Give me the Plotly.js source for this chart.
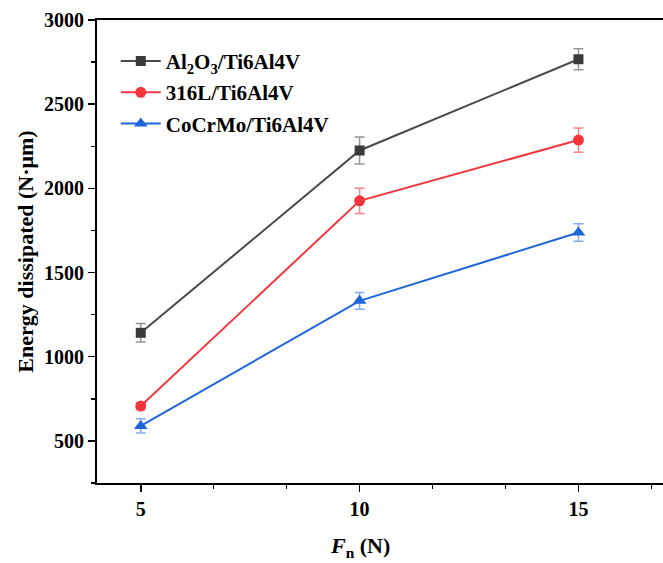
<!DOCTYPE html>
<html>
<head>
<meta charset="utf-8">
<script src="https://cdn.plot.ly/plotly-3.0.1.min.js"></script>
<style>
  html, body { margin: 0; padding: 0; background: #fff; overflow: hidden; }
  #chart { width: 670px; height: 563px; }
</style>
</head>
<body>
<div id="chart"></div>
<script>
// Normal load (N)
const loads = [5, 10, 15];

// Dissipated energy (N·µm) and standard deviations for each material pair
const al2o3Energy = [1142, 2225, 2767];
const al2o3Err = [55, 80, 62];
const ss316Energy = [707, 1926, 2287];
const ss316Err = [20, 75, 72];
const cocrmoEnergy = [589, 1332, 1738];
const cocrmoErr = [42, 50, 52];

const seriesNames = ['Al<sub>2</sub>O<sub>3</sub>/Ti6Al4V', '316L/Ti6Al4V', 'CoCrMo/Ti6Al4V'];
const xTitle = '<i>F</i><sub>n</sub> (N)';
const yTitle = 'Energy dissipated (N·μm)';

const font = 'Liberation Serif, Times New Roman, serif';

function series(name, group, y, err, lineColor, markerColor, errColor, symbol, size) {
  return {
    x: loads, y: y, name: name, legendgroup: group, type: 'scatter', mode: 'lines+markers',
    line: { color: lineColor, width: 2 },
    marker: { color: markerColor, symbol: symbol, size: size },
    error_y: { type: 'data', array: err, visible: true, color: errColor, thickness: 1.5, width: 5 }
  };
}

const data = [
  series(seriesNames[0], 'a', al2o3Energy, al2o3Err, '#4a4a4a', '#3a3a3a', 'rgba(60,60,60,0.55)', 'square', 10),
  series(seriesNames[1], 'b', ss316Energy, ss316Err, '#f2363c', '#f2363c', 'rgba(242,54,60,0.6)', 'circle', 11),
  series(seriesNames[2], 'c', cocrmoEnergy, cocrmoErr, '#1f66dd', '#1f66dd', 'rgba(31,102,221,0.55)', 'triangle-up', 12)
];

const layout = {
  width: 670, height: 563,
  margin: { l: 97, r: 4, t: 20, b: 80 },
  paper_bgcolor: '#ffffff', plot_bgcolor: '#ffffff',
  font: { family: font, color: '#000', size: 16 },
  showlegend: true,
  legend: {
    x: 0.033, y: 0.955, xanchor: 'left', yanchor: 'top',
    font: { family: font, size: 21, color: '#000', weight: 'bold' },
    bgcolor: 'rgba(0,0,0,0)', tracegroupgap: 1, itemwidth: 40
  },
  xaxis: {
    range: [4, 17], tickvals: loads, ticktext: loads.map(String),
    showgrid: false, zeroline: false,
    showline: true, linecolor: '#000', linewidth: 2, mirror: true,
    ticks: 'outside', ticklen: 7, tickwidth: 1.5, tickcolor: '#000',
    tickfont: { family: font, size: 20, weight: 'bold' },
    minor: { tick0: 5, dtick: 5 / 3, ticks: 'outside', ticklen: 4, tickwidth: 1.5, tickcolor: '#000', showgrid: false }
  },
  yaxis: {
    range: [250, 3000], tick0: 500, dtick: 500,
    showgrid: false, zeroline: false,
    showline: true, linecolor: '#000', linewidth: 2, mirror: true,
    ticks: 'outside', ticklen: 7, tickwidth: 1.5, tickcolor: '#000',
    tickfont: { family: font, size: 20, weight: 'bold' },
    minor: { dtick: 250, ticks: 'outside', ticklen: 4, tickwidth: 1.5, tickcolor: '#000', showgrid: false },
    title: { text: yTitle, font: { family: font, size: 22, weight: 'bold' }, standoff: 4 }
  },
  annotations: [{
    text: xTitle, xref: 'x', x: 10, yref: 'paper', y: -0.138, yanchor: 'middle',
    showarrow: false, font: { family: font, size: 22, weight: 'bold', color: '#000' }
  }]
};

Plotly.newPlot('chart', data, layout, { displayModeBar: false, staticPlot: true });
</script>
</body>
</html>
